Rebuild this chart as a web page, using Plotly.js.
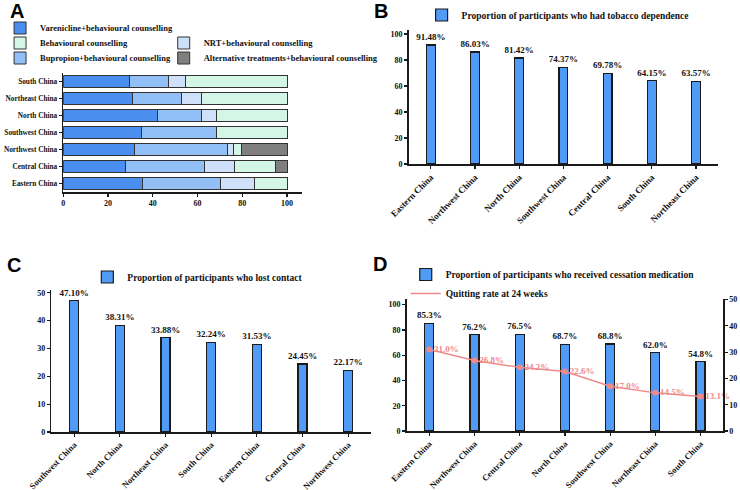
<!DOCTYPE html>
<html>
<head>
<meta charset="utf-8">
<script src="https://cdn.plot.ly/plotly-3.0.1.min.js"></script>
<style>
  body { margin: 0; background: #fff; }
  #chart { width: 740px; height: 490px; }
</style>
</head>
<body>
<div id="chart"></div>
<script>
// panel A - treatment mix by region (bottom to top)
var regions_a = ["Eastern China", "Central China", "Northwest China", "Southwest China", "North China", "Northeast China", "South China"];
var varenicline = [35.5, 28.0, 31.7, 35.1, 41.9, 30.9, 29.6];
var bupropion = [34.8, 34.9, 41.7, 33.5, 19.8, 21.9, 17.3];
var nrt = [15.1, 13.6, 2.6, 0, 6.9, 9.2, 7.8];
var behavioural = [14.6, 18.5, 3.6, 31.4, 31.4, 38.0, 45.3];
var alternative = [0, 5.0, 20.4, 0, 0, 0, 0];

// panel B
var regions_b = ["Eastern China", "Northwest China", "North China", "Southwest China", "Central China", "South China", "Northeast China"];
var dependence = [91.48, 86.03, 81.42, 74.37, 69.78, 64.15, 63.57];

// panel C
var regions_c = ["Southwest China", "North China", "Northeast China", "South China", "Eastern China", "Central China", "Northwest China"];
var lost_contact = [47.10, 38.31, 33.88, 32.24, 31.53, 24.45, 22.17];

// panel D
var regions_d = ["Eastern China", "Northwest China", "Central China", "North China", "Southwest China", "Northeast China", "South China"];
var medication = [85.3, 76.2, 76.5, 68.7, 68.8, 62.0, 54.8];
var quit_rate = [31.0, 26.8, 24.2, 22.6, 17.0, 14.5, 13.1];

var serif = "Liberation Serif, Times New Roman, serif";
var barblue = "#4f9bf5";
var outline = {color: "#1a1a1a", width: 1.2};
var pink = "#ef8a8a";

function tickfont(size) {
	return {family: serif, size: size, color: "#111", weight: "bold"};
}

function px(x) { return x / 740; }
function py(y) { return 1 - y / 490; }

function axis_style(extra) {
	var a = {
		showline: true,
		linecolor: "#1a1a1a",
		linewidth: 1.5,
		ticks: "outside",
		ticklen: 3,
		tickwidth: 1.2,
		tickcolor: "#1a1a1a",
		showgrid: false,
		zeroline: false,
		fixedrange: true,
		tickfont: tickfont(8)
	};
	for (var k in extra) a[k] = extra[k];
	return a;
}

function hbar(name, vals, color, legend) {
	return {
		type: "bar",
		orientation: "h",
		x: vals,
		y: regions_a,
		name: name,
		xaxis: "x",
		yaxis: "y",
		legend: legend,
		marker: {color: color, line: {color: "#333", width: 1}},
		hoverinfo: "x+name"
	};
}

function vbar(name, cats, vals, xa, ya, legend, fmt) {
	return {
		type: "bar",
		x: cats,
		y: vals,
		name: name,
		xaxis: xa,
		yaxis: ya,
		legend: legend,
		legendrank: 1,
		width: 0.2,
		marker: {color: barblue, line: outline},
		text: vals.map(function(v) { return v.toFixed(fmt) + "%"; }),
		textposition: "outside",
		constraintext: "none",
		cliponaxis: false,
		textfont: tickfont(9)
	};
}

var data = [
	hbar("Varenicline+behavioural counselling", varenicline, "#4a8ff0", "legend"),
	hbar("Bupropion+behavioural counselling", bupropion, "#92bff6", "legend6"),
	hbar("NRT+behavioural counselling", nrt, "#cfe1fa", "legend7"),
	hbar("Behavioural counselling", behavioural, "#d4f6e6", "legend5"),
	hbar("Alternative treatments+behavioural counselling", alternative, "#7f7f7f", "legend8"),
	vbar("Proportion of participants who had tobacco dependence", regions_b, dependence, "x2", "y2", "legend2", 2),
	vbar("Proportion of participants who lost contact", regions_c, lost_contact, "x3", "y3", "legend3", 2),
	vbar("Proportion of participants who received cessation medication", regions_d, medication, "x4", "y4", "legend4", 1),
	{
		type: "scatter",
		mode: "lines",
		x: regions_d,
		y: quit_rate,
		name: "Quitting rate at 24 weeks",
		xaxis: "x4",
		yaxis: "y5",
		legend: "legend4",
		legendrank: 2,
		line: {color: pink, width: 1.5}
	},
	{
		type: "scatter",
		mode: "markers+text",
		x: regions_d,
		y: quit_rate,
		showlegend: false,
		xaxis: "x4",
		yaxis: "y5",
		marker: {color: pink, size: 6},
		text: quit_rate.map(function(v) { return v.toFixed(1) + "%"; }),
		textposition: "middle right",
		textfont: {family: serif, size: 9, color: pink, weight: "bold"},
		cliponaxis: false
	}
];

function legend_at(x, y, size, extra) {
	var l = {
		x: x,
		y: y,
		xanchor: "left",
		yanchor: "middle",
		orientation: "v",
		traceorder: "normal",
		bgcolor: "rgba(0,0,0,0)",
		font: tickfont(size),
		itemclick: false,
		itemdoubleclick: false
	};
	for (var k in extra) l[k] = extra[k];
	return l;
}

function panel_letter(t, x, y) {
	return {
		text: t, x: px(x), y: py(y), xref: "paper", yref: "paper",
		xanchor: "center", yanchor: "middle", showarrow: false,
		font: {family: "Liberation Sans, Arial", size: 20, color: "#000", weight: "bold"}
	};
}

var rot = {family: serif, size: 9, color: "#111", weight: "bold"};
var rot_low = {family: serif, size: 8.6, color: "#111", weight: "bold"};

var layout = {
	width: 740,
	height: 490,
	margin: {l: 0, r: 0, t: 0, b: 0},
	paper_bgcolor: "#fff",
	plot_bgcolor: "#fff",
	barmode: "stack",
	bargap: 0.33,
	showlegend: true,
	// A
	xaxis: axis_style({domain: [px(57.7), px(298)], range: [0, 106.5], tickvals: [0, 20, 40, 60, 80, 100], anchor: "y"}),
	yaxis: axis_style({domain: [py(192), py(73)], anchor: "x", tickfont: tickfont(7.3)}),
	// B
	xaxis2: axis_style({domain: [px(406), px(718)], range: [-0.5, 6.5], anchor: "y2", tickangle: -45, tickfont: rot}),
	yaxis2: axis_style({domain: [py(164), py(30)], range: [0, 103], tickvals: [0, 20, 40, 60, 80, 100], anchor: "x2"}),
	// C
	xaxis3: axis_style({domain: [px(45.7), px(368)], range: [-0.5, 6.5], anchor: "y3", tickangle: -45, tickfont: rot_low}),
	yaxis3: axis_style({domain: [py(432), py(290)], range: [0, 51], tickvals: [0, 10, 20, 30, 40, 50], anchor: "x3"}),
	// D
	xaxis4: axis_style({domain: [px(404), px(723)], range: [-0.5, 6.5], anchor: "y4", tickangle: -45, tickfont: rot_low}),
	yaxis4: axis_style({domain: [py(431), py(299)], range: [0, 104.5], tickvals: [0, 20, 40, 60, 80, 100], anchor: "x4"}),
	yaxis5: axis_style({overlaying: "y4", side: "right", range: [0, 50.2], tickvals: [0, 10, 20, 30, 40, 50], anchor: "x4"}),
	// panel A legend, two columns
	legend: legend_at(px(-6), py(28), 8.5),
	legend5: legend_at(px(-6), py(43), 8.5),
	legend6: legend_at(px(-6), py(58), 8.5),
	legend7: legend_at(px(159), py(43), 8.5),
	legend8: legend_at(px(159), py(58), 8.5),
	legend2: legend_at(px(419), py(15), 9.5),
	legend3: legend_at(px(82), py(277), 9.5),
	legend4: legend_at(px(403), py(284), 9.5, {tracegroupgap: 0}),
	annotations: [
		panel_letter("A", 11, 11),
		panel_letter("B", 378, 11),
		panel_letter("C", 8, 265),
		panel_letter("D", 377, 264)
	]
};

Plotly.newPlot("chart", data, layout, {displayModeBar: false, staticPlot: true});
</script>
</body>
</html>
